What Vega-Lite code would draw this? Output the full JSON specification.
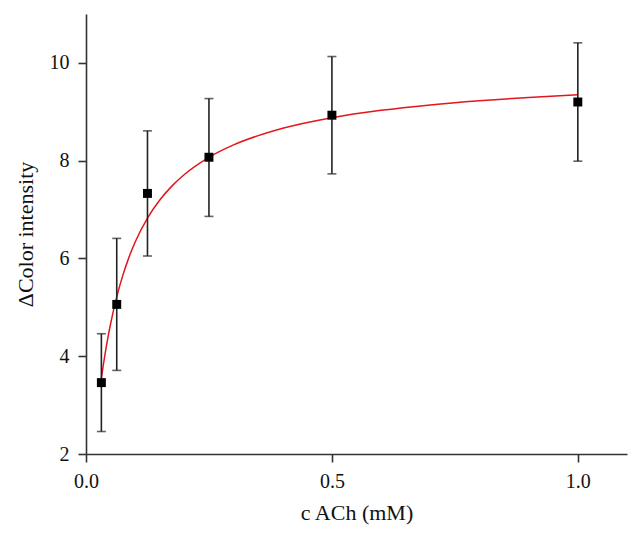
{
  "$schema": "https://vega.github.io/schema/vega-lite/v6.json",
  "autosize": "none",
  "width": 541,
  "height": 440,
  "padding": {"left": 86, "top": 14, "right": 15, "bottom": 83},
  "background": "white",
  "config": {
    "view": {"stroke": null},
    "font": "Liberation Serif",
    "axis": {
      "grid": false,
      "domainColor": "#333333",
      "domainWidth": 1.6,
      "tickColor": "#333333",
      "tickWidth": 1.6,
      "tickSize": 8,
      "labelFont": "Liberation Serif",
      "labelFontSize": 20,
      "labelColor": "#111111",
      "labelPadding": 9,
      "labelFlush": false,
      "labelOverlap": false,
      "titleFont": "Liberation Serif",
      "titleFontSize": 22,
      "titleFontWeight": "normal",
      "titleColor": "#111111"
    }
  },
  "datasets": {
    "pts": [
      {"x": 0.03125, "y": 3.46, "lo": 2.46, "hi": 4.46},
      {"x": 0.0625, "y": 5.06, "lo": 3.71, "hi": 6.41},
      {"x": 0.125, "y": 7.33, "lo": 6.05, "hi": 8.61},
      {"x": 0.25, "y": 8.07, "lo": 6.86, "hi": 9.27},
      {"x": 0.5, "y": 8.93, "lo": 7.73, "hi": 10.13},
      {"x": 1.0, "y": 9.2, "lo": 7.99, "hi": 10.41}
    ],
    "fit": [
      {"x": 0.03125, "y": 3.543},
      {"x": 0.035, "y": 3.805},
      {"x": 0.04, "y": 4.121},
      {"x": 0.045, "y": 4.406},
      {"x": 0.05, "y": 4.664},
      {"x": 0.0625, "y": 5.215},
      {"x": 0.075, "y": 5.659},
      {"x": 0.0875, "y": 6.027},
      {"x": 0.1, "y": 6.335},
      {"x": 0.125, "y": 6.824},
      {"x": 0.15, "y": 7.194},
      {"x": 0.175, "y": 7.484},
      {"x": 0.2, "y": 7.717},
      {"x": 0.25, "y": 8.069},
      {"x": 0.3, "y": 8.322},
      {"x": 0.4, "y": 8.662},
      {"x": 0.5, "y": 8.879},
      {"x": 0.6, "y": 9.03},
      {"x": 0.7, "y": 9.141},
      {"x": 0.8, "y": 9.226},
      {"x": 0.9, "y": 9.294},
      {"x": 1.0, "y": 9.348}
    ]
  },
  "layer": [
    {
      "data": {"name": "fit"},
      "mark": {"type": "line", "color": "#e3161c", "strokeWidth": 1.5, "interpolate": "monotone"},
      "encoding": {
        "x": {
          "field": "x", "type": "quantitative",
          "scale": {"domain": [0, 1.1], "nice": false, "zero": false},
          "axis": {"values": [0, 0.5, 1.0], "format": ".1f", "title": "c ACh (mM)", "titlePadding": 11}
        },
        "y": {
          "field": "y", "type": "quantitative",
          "scale": {"domain": [2, 11], "nice": false, "zero": false},
          "axis": {"values": [2, 4, 6, 8, 10], "title": "ΔColor intensity", "titlePadding": 12}
        }
      }
    },
    {
      "data": {"name": "pts"},
      "mark": {"type": "rule", "color": "#222222", "strokeWidth": 1.6},
      "encoding": {
        "x": {"field": "x", "type": "quantitative"},
        "y": {"field": "lo", "type": "quantitative"},
        "y2": {"field": "hi"}
      }
    },
    {
      "data": {"name": "pts"},
      "mark": {"type": "tick", "orient": "horizontal", "color": "#222222", "size": 9, "thickness": 1.6},
      "encoding": {
        "x": {"field": "x", "type": "quantitative"},
        "y": {"field": "lo", "type": "quantitative"}
      }
    },
    {
      "data": {"name": "pts"},
      "mark": {"type": "tick", "orient": "horizontal", "color": "#222222", "size": 9, "thickness": 1.6},
      "encoding": {
        "x": {"field": "x", "type": "quantitative"},
        "y": {"field": "hi", "type": "quantitative"}
      }
    },
    {
      "data": {"name": "pts"},
      "mark": {"type": "point", "shape": "square", "filled": true, "color": "#000000", "opacity": 1, "size": 80},
      "encoding": {
        "x": {"field": "x", "type": "quantitative"},
        "y": {"field": "y", "type": "quantitative"}
      }
    }
  ]
}
